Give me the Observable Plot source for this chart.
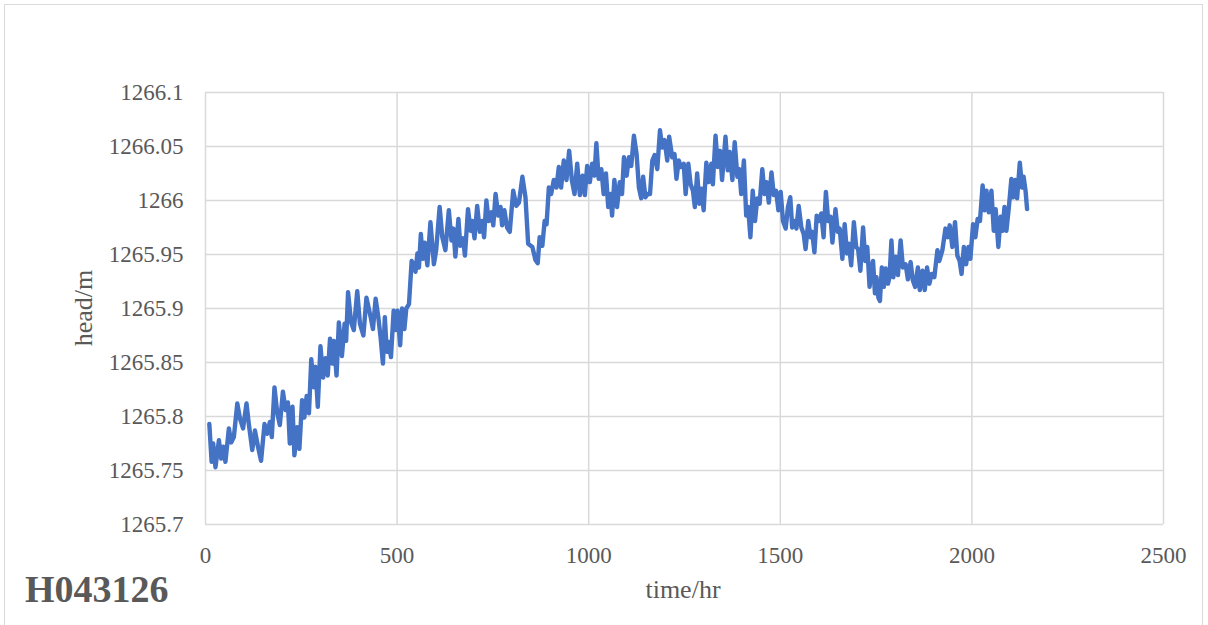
<!DOCTYPE html>
<html>
<head>
<meta charset="utf-8">
<script src="https://cdn.jsdelivr.net/npm/d3@7"></script>
<script src="https://cdn.jsdelivr.net/npm/@observablehq/plot@0.6"></script>
<style>
  html, body { margin: 0; padding: 0; background: #fff; }
  #wrap { position: relative; width: 1208px; height: 625px; overflow: hidden; background: #fff; font-family: "Liberation Serif", "Times New Roman", serif; }
  #border { position: absolute; left: 4px; top: 4px; width: 1199px; height: 660px; border: 1px solid #d9d9d9; box-sizing: border-box; }
  #chart { position: absolute; left: 0; top: 0; }
  .lbl { position: absolute; color: #595959; white-space: nowrap; }
  #ylab { left: 84px; top: 308px; font-size: 26px; transform: translate(-50%, -50%) rotate(-90deg); }
  #xlab { left: 683px; top: 590px; font-size: 26px; transform: translate(-50%, -50%); }
  #title { left: 25px; top: 570px; font-size: 38px; font-weight: bold; line-height: 1; }
</style>
</head>
<body>
<div id="wrap">
  <div id="border"></div>
  <div id="chart"></div>
  <div class="lbl" id="ylab">head/m</div>
  <div class="lbl" id="xlab">time/hr</div>
  <div class="lbl" id="title">H043126</div>
</div>
<script>
const xTicks = [0, 500, 1000, 1500, 2000, 2500];
const yTicks = [1265.7, 1265.75, 1265.8, 1265.85, 1265.9, 1265.95, 1266, 1266.05, 1266.1];

const timeHr = [
  10,16,20,26,35,41,46,52,61,67,74,83,90,98,107,113,122,129,137,145,154,161,168,173,180,187,194,202,209,215,220,227,232,239,245,252,258,264,270,276,283,287,293,300,307,313,319,325,331,335,342,348,356,363,367,372,380,387,396,403,412,420,
  431,437,444,451,457,463,468,473,478,484,491,496,501,508,513,519,524,531,538,544,548,553,557,562,567,572,579,587,596,602,611,618,626,635,642,647,652,660,665,672,677,685,692,696,702,709,716,722,727,733,739,746,751,757,764,770,774,780,787,794,803,811,818,827,835,842,
  853,861,867,872,879,885,890,896,902,909,916,922,928,935,942,949,956,963,970,977,984,990,996,1003,1009,1015,1020,1026,1033,1039,1045,1051,1057,1061,1067,1074,1081,1087,1092,1099,1105,1111,1118,1125,1131,1137,1142,1148,1154,1160,1166,1172,1179,1186,1192,1198,1205,1210,1218,1224,1229,1235,1241,1248,1253,1260,1266,1272,1277,1283,1289,
  1294,1300,1307,1313,1320,1324,1331,1337,1343,1348,1357,1363,1368,1375,1381,1388,1393,1398,1405,1411,1416,1422,1428,1434,1440,1446,1453,1459,1464,1470,1477,1483,1489,1495,1501,1507,1514,1520,1526,1531,1537,1542,1548,1555,1561,1566,1573,1579,1583,1589,1595,1601,1607,1613,1619,1625,1631,1636,1644,1650,1655,1662,1668,1674,1679,1685,1692,1698,1703,1709,1716,
  1722,1727,1733,1738,1742,1747,1751,1756,1760,1765,1770,1775,1781,1785,1790,1795,1801,1807,1814,1820,1827,1833,1840,1846,1852,1859,1864,1871,1877,1883,1889,1895,1902,1910,1915,1923,1931,1937,1942,1949,1956,1962,1968,1973,1979,1985,1991,1996,2003,2009,2015,2021,2028,2033,2038,2044,2051,2057,2062,2069,2075,2080,2085,2090,2096,2103,2108,2113,2118,2125,2131,2135,2140,2144
];

const headM = [
  1265.793,1265.758,1265.775,1265.753,1265.778,1265.761,1265.772,1265.758,1265.789,1265.776,1265.781,1265.812,1265.798,1265.789,1265.812,1265.793,1265.769,1265.787,1265.772,1265.759,1265.793,1265.784,1265.795,1265.781,1265.827,1265.804,1265.792,1265.823,1265.806,1265.813,1265.775,1265.809,1265.764,1265.790,1265.770,1265.815,1265.799,1265.819,1265.803,1265.853,1265.827,1265.846,1265.809,1265.865,1265.836,1265.854,1265.838,1265.872,1265.849,1265.870,1265.838,1265.887,1265.856,1265.886,1265.870,1265.915,1265.887,1265.880,1265.916,1265.886,1265.875,1265.910,
  1265.892,1265.881,1265.909,1265.892,1265.873,1265.849,1265.892,1265.860,1265.869,1265.855,1265.898,1265.880,1265.898,1265.866,1265.900,1265.881,1265.900,1265.904,1265.944,1265.940,1265.934,1265.951,1265.938,1265.969,1265.946,1265.961,1265.940,1265.980,1265.941,1265.954,1265.994,1265.966,1265.954,1265.991,1265.963,1265.974,1265.948,1265.983,1265.958,1265.965,1265.949,1265.992,1265.972,1265.981,1265.965,1265.995,1265.971,1265.981,1265.966,1266.000,1265.981,1265.989,1265.977,1266.006,1265.986,1265.994,1265.977,1265.991,1265.975,1265.971,1266.009,1265.995,1265.998,1266.022,1266.003,1265.960,
  1265.957,1265.945,1265.942,1265.966,1265.958,1265.981,1265.978,1266.012,1266.006,1266.019,1266.012,1266.031,1266.012,1266.037,1266.019,1266.046,1266.019,1266.006,1266.034,1266.005,1266.023,1266.005,1266.032,1266.017,1266.034,1266.023,1266.053,1266.020,1266.029,1266.006,1266.025,1265.994,1266.006,1265.986,1266.019,1265.994,1266.017,1266.006,1266.040,1266.023,1266.040,1266.032,1266.060,1266.043,1266.012,1266.002,1266.022,1266.003,1266.006,1266.006,1266.037,1266.042,1266.029,1266.065,1266.049,1266.056,1266.037,1266.059,1266.040,1266.043,1266.020,1266.037,1266.031,1266.034,1266.006,1266.034,1266.015,1266.009,1265.994,1266.025,1265.997,
  1266.011,1265.991,1266.035,1266.017,1266.034,1266.015,1266.060,1266.031,1266.046,1266.019,1266.059,1266.028,1266.045,1266.019,1266.054,1266.022,1266.029,1266.006,1266.037,1265.986,1265.994,1265.966,1266.009,1265.981,1266.002,1265.997,1266.029,1266.006,1266.017,1265.998,1266.026,1266.005,1266.009,1265.991,1266.008,1265.981,1265.974,1265.994,1266.003,1265.975,1265.981,1265.974,1265.995,1265.975,1265.969,1265.955,1265.981,1265.966,1265.971,1265.952,1265.986,1265.981,1265.988,1265.966,1266.008,1265.981,1265.985,1265.961,1265.992,1265.971,1265.974,1265.946,1265.978,1265.951,1265.960,1265.940,1265.980,1265.957,1265.955,1265.935,1265.975,
  1265.944,1265.957,1265.920,1265.938,1265.944,1265.914,1265.929,1265.910,1265.907,1265.938,1265.920,1265.937,1265.923,1265.929,1265.963,1265.929,1265.948,1265.931,1265.963,1265.938,1265.941,1265.927,1265.943,1265.926,1265.920,1265.938,1265.917,1265.935,1265.917,1265.938,1265.923,1265.932,1265.929,1265.954,1265.944,1265.954,1265.974,1265.966,1265.977,1265.957,1265.980,1265.949,1265.944,1265.932,1265.957,1265.941,1265.957,1265.946,1265.978,1265.966,1265.983,1265.981,1266.014,1265.991,1266.009,1265.989,1266.009,1265.972,1265.992,1265.957,1265.985,1265.972,1265.994,1265.972,1265.992,1266.020,1266.003,1266.019,1266.002,1266.035,1266.012,1266.022,1266.009,1265.992
];

const data = timeHr.map((t, i) => ({t, h: headM[i]}));
const fmtY = d => String(+d.toFixed(2));

const chart = Plot.plot({
  width: 1208,
  height: 625,
  marginLeft: 205,
  marginRight: 45,
  marginTop: 92,
  marginBottom: 101,
  style: {fontFamily: '"Liberation Serif", "Times New Roman", serif', background: "transparent", overflow: "visible"},
  x: {domain: [0, 2500]},
  y: {domain: [1265.7, 1266.1]},
  marks: [
    Plot.gridX(xTicks, {stroke: "#d9d9d9", strokeOpacity: 1, strokeWidth: 1.5}),
    Plot.gridY(yTicks, {stroke: "#d9d9d9", strokeOpacity: 1, strokeWidth: 1.5}),
    Plot.axisX(xTicks, {tickSize: 0, tickPadding: 22, fontSize: 23, fill: "#595959", label: null, tickFormat: d => String(d)}),
    Plot.axisY(yTicks, {tickSize: 0, tickPadding: 22, fontSize: 23, fill: "#595959", label: null, tickFormat: fmtY}),
    Plot.line(data, {x: "t", y: "h", stroke: "#4472C4", strokeWidth: 4.4, strokeLinejoin: "round", strokeLinecap: "round"})
  ]
});
document.getElementById("chart").appendChild(chart);
</script>
</body>
</html>
